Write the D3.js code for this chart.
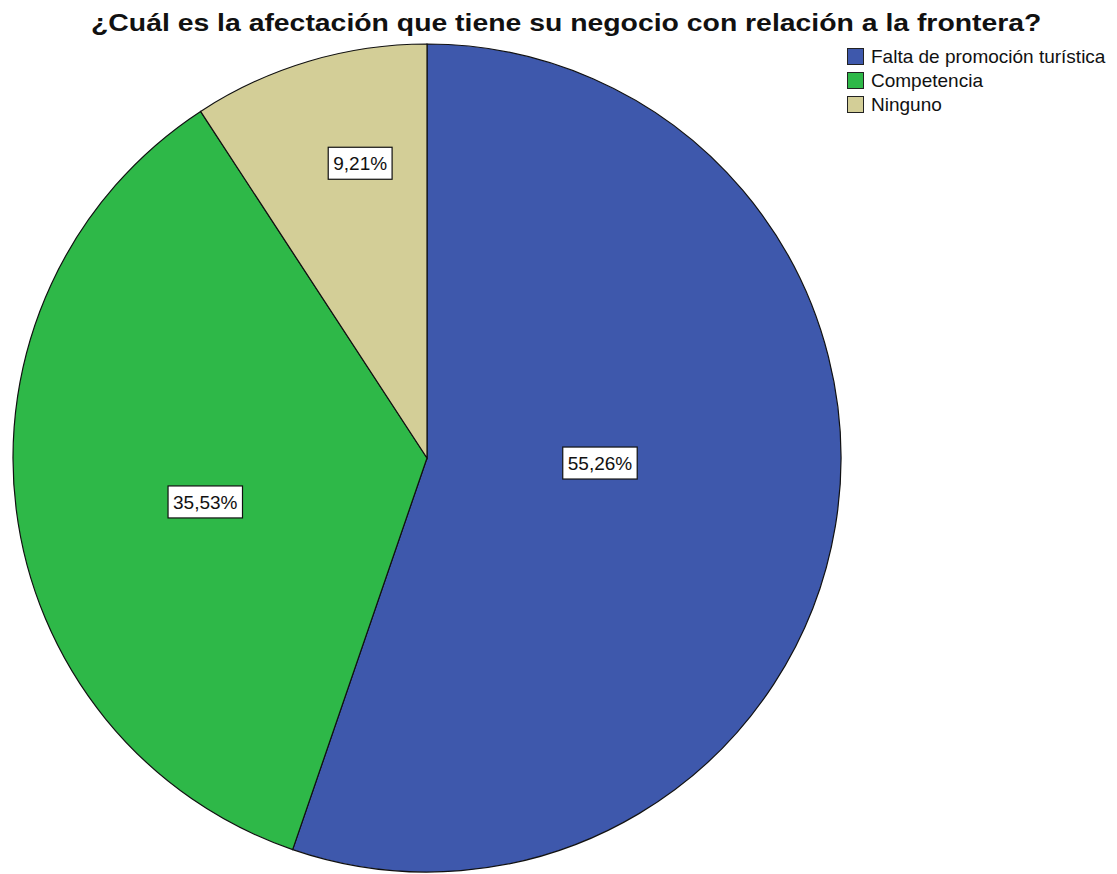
<!DOCTYPE html>
<html>
<head>
<meta charset="utf-8">
<script src="https://cdn.jsdelivr.net/npm/d3@7"></script>
<style>
  body { margin: 0; background: #fff; }
  text { font-family: "Liberation Sans", Arial, sans-serif; fill: #111; }
</style>
</head>
<body>
<div id="chart"></div>
<script>
const title = "¿Cuál es la afectación que tiene su negocio con relación a la frontera?";
const categories = ["Falta de promoción turística", "Competencia", "Ninguno"];
const percents = [55.26, 35.53, 9.21];
const colors = ["#3e58ac", "#2eb848", "#d3ce97"];

let w = 1117;
let h = 874;
let cx = 427;
let cy = 458;
let radius = 414;
// label placement per slice: angle shift from the slice middle (degrees) and share of radius
let labelShift = [-7.8, -4.1, 3.8];
let labelRadius = [0.418, 0.546, 0.73];

let svg = d3
  .select("#chart")
  .append("svg")
  .attr("width", w)
  .attr("height", h);

// title is drawn a bit wider than the font, so stretch it to its width
let titleText = svg
  .append("text")
  .attr("font-size", 24)
  .attr("font-weight", "bold")
  .text(title);
let titleW = titleText.node().getComputedTextLength();
titleText.attr("transform", `translate(91,31) scale(${951 / titleW},1)`);

let pie = d3
  .pie()
  .sort(null)
  .value(function (d) {
    return d;
  });

let arc = d3.arc().innerRadius(0).outerRadius(radius);

let arcs = pie(percents);

let g = svg.append("g").attr("transform", `translate(${cx},${cy})`);

g.selectAll("path")
  .data(arcs)
  .enter()
  .append("path")
  .attr("d", arc)
  .attr("fill", function (d, i) {
    return colors[i];
  })
  .attr("stroke", "#111")
  .attr("stroke-width", 1.2);

// labels in white boxes
let fmt = function (v) {
  return v.toFixed(2).replace(".", ",") + "%";
};

arcs.forEach(function (d, i) {
  let mid = (d.startAngle + d.endAngle) / 2 + (labelShift[i] * Math.PI) / 180;
  let rr = radius * labelRadius[i];
  let lx = Math.sin(mid) * rr;
  let ly = -Math.cos(mid) * rr;
  let lab = g.append("g").attr("transform", `translate(${lx},${ly})`);
  let box = lab.append("rect");
  let t = lab
    .append("text")
    .attr("text-anchor", "middle")
    .attr("dy", "0.36em")
    .attr("font-size", 19)
    .text(fmt(percents[i]));
  let tw = t.node().getComputedTextLength();
  box
    .attr("x", -tw / 2 - 5)
    .attr("y", -16)
    .attr("width", tw + 10)
    .attr("height", 32)
    .attr("fill", "#fff")
    .attr("stroke", "#111")
    .attr("stroke-width", 1.2);
});

// legend
let legend = svg
  .append("g")
  .attr("transform", "translate(847,48)")
  .selectAll("g")
  .data(categories)
  .enter()
  .append("g")
  .attr("transform", function (d, i) {
    return `translate(0,${i * 24})`;
  });

legend
  .append("rect")
  .attr("x", 0.5)
  .attr("y", 0.5)
  .attr("width", 16)
  .attr("height", 16)
  .attr("fill", function (d, i) {
    return colors[i];
  })
  .attr("stroke", "#222");

legend
  .append("text")
  .attr("x", 24)
  .attr("y", 15)
  .attr("font-size", 19)
  .text(function (d) {
    return d;
  });
</script>
</body>
</html>
